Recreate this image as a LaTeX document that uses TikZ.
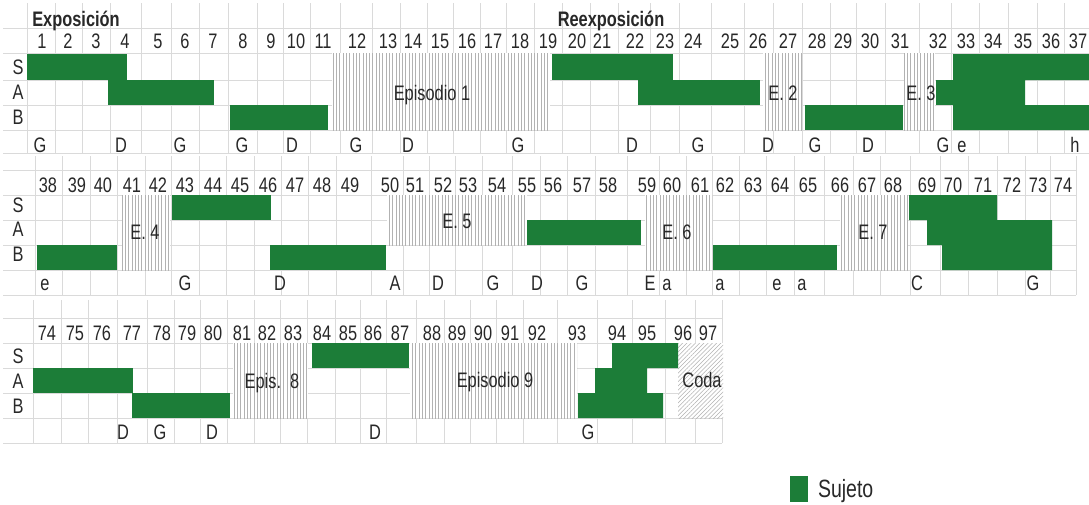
\documentclass[tikz,border=0pt]{standalone}
\usepackage{fontspec}
\newfontfamily\chartfont{Liberation Sans}[FakeStretch=0.78]
\usetikzlibrary{patterns.meta}
\definecolor{sujeto}{RGB}{28,125,56}
\definecolor{gridc}{RGB}{218,218,218}
\definecolor{hatchc}{RGB}{178,178,178}
\definecolor{txt}{RGB}{40,40,40}
\begin{document}
\begin{tikzpicture}[x=1pt,y=-1pt,
  every node/.style={inner sep=0pt, outer sep=0pt, text=txt,
    font=\chartfont\fontsize{21}{24}\selectfont, text height=15pt, text depth=0pt},
  gridline/.style={draw=gridc, line width=0.8pt},
  subj/.style={fill=sujeto},
  episode/.style={preaction={fill=white}, pattern={Lines[angle=90,distance=3.3pt,line width=1pt]}, pattern color=hatchc},
  codahatch/.style={preaction={fill=white}, pattern={Lines[angle=45,distance=3pt,line width=0.5pt]}, pattern color=hatchc},
  hdr/.style={font=\chartfont\bfseries\fontsize{21}{24}\selectfont},
  legendtext/.style={font=\chartfont\fontsize{25}{28}\selectfont, text height=18pt}
]
\fill[white] (0,0) rectangle (1089,504);
\useasboundingbox (0,0) rectangle (1089,504);

% ---------- grid ----------
\foreach \x in {27,55,82,110,141,171,199,228,257,283,310,340,372,400,427,453,480,506,534,562,590,618,650,679,711,744,773,802,830,856,885,919,951,979,1008,1037,1064}
  \draw[gridline] (\x,3) -- (\x,153);
\foreach \y in {28,53,80,105,130,153}
  \draw[gridline] (3,\y) -- (1089,\y);
\foreach \x in {35,62,90,117,145,171,199,226,254,281,308,336,371,403,429,455,482,512,540,567,595,627,659,686,712,739,766,794,824,853,880,910,940,968,997,1025,1050,1076}
  \draw[gridline] (\x,156) -- (\x,295);
\foreach \y in {170,195,220,245,270,295}
  \draw[gridline] (3,\y) -- (1076,\y);
\foreach \x in {33,61,88,117,147,174,200,227,254,280,307,335,360,386,416,444,470,496,523,557,597,632,665,695,722}
  \draw[gridline] (\x,300) -- (\x,443);
\foreach \y in {318,343,368,393,418,443}
  \draw[gridline] (3,\y) -- (722,\y);

% ---------- episodes ----------
\fill[episode] (332,53) rectangle (550,130);
\fill[episode] (763,53) rectangle (802,130);
\fill[episode] (904,53) rectangle (935,130);
\fill[episode] (122,195) rectangle (170,270);
\fill[episode] (387,195) rectangle (527,245);
\fill[episode] (645,195) rectangle (712,270);
\fill[episode] (840,195) rectangle (908,270);
\fill[episode] (233,343) rectangle (308,418);
\fill[episode] (410,343) rectangle (577,418);
\fill[codahatch] (678,343) rectangle (723,418);

% ---------- subject entries ----------
% row 1
\fill[subj] (27,54) rectangle (127,80);
\fill[subj] (108,80) rectangle (214,105);
\fill[subj] (230,105) rectangle (328,130);
\fill[subj] (552,54) rectangle (673,80);
\fill[subj] (638,80) rectangle (760,105);
\fill[subj] (805,105) rectangle (903,130);
\fill[subj] (936,80) rectangle (953,105);
\fill[subj] (953,54) -- (1089,54) -- (1089,80) -- (1025,80) -- (1025,105) -- (1089,105) -- (1089,130) -- (953,130) -- cycle;
% row 2
\fill[subj] (37,245) rectangle (117,270);
\fill[subj] (172,195) rectangle (271,220);
\fill[subj] (270,245) rectangle (386,270);
\fill[subj] (527,220) rectangle (641,245);
\fill[subj] (713,245) rectangle (837,270);
\fill[subj] (909,195) -- (997,195) -- (997,220) -- (1052,220) -- (1052,270) -- (942,270) -- (942,245) -- (927,245) -- (927,220) -- (909,220) -- cycle;
% row 3
\fill[subj] (33,368) rectangle (133,393);
\fill[subj] (132,393) rectangle (230,418);
\fill[subj] (312,343) rectangle (409,368);
\fill[subj] (612,343) -- (678,343) -- (678,368) -- (647,368) -- (647,393) -- (663,393) -- (663,418) -- (578,418) -- (578,393) -- (595,393) -- (595,368) -- (612,368) -- cycle;

% ---------- headers ----------
\node[hdr] (expo) at (76,19) {Exposición};
\node[hdr] (reexpo) at (611,19) {Reexposición};

% ---------- measure numbers ----------
\foreach \n/\x in {1/42,2/68,3/96,4/125,5/158,6/185,7/213,8/243,9/271,10/296,11/323,12/357,13/388,14/413,15/440,16/467,17/493,18/520,19/548,20/577,21/602,22/635,23/665,24/693,25/730,26/758,27/788,28/817,29/843,30/870,31/900,32/938,33/966,34/993,35/1023,36/1051,37/1078}
  \node (m\n) at (\x,41) {\n};
\foreach \n/\x in {38/48,39/77,40/103,41/132,42/158,43/185,44/213,45/240,46/268,47/295,48/322,49/350,50/390,51/415,52/443,53/468,54/497,55/527,56/553,57/582,58/608,59/647,60/672,61/700,62/725,63/753,64/780,65/808,66/840,67/867,68/893,69/927,70/953,71/983,72/1012,73/1038,74/1063}
  \node (m\n) at (\x,185) {\n};
\foreach \n/\x in {74/47,75/75,76/102,77/132,78/162,79/187,80/213,81/242,82/267,83/293,84/322,85/348,86/373,87/400,88/432,89/457,90/483,91/510,92/537,93/577,94/617,95/647,96/683,97/708}
  \node (p\n) at (\x,333) {\n};

% ---------- voice labels ----------
\node (sa) at (18,67) {S}; \node (aa) at (18,92) {A}; \node (ba) at (18,117) {B};
\node (sb) at (18,205) {S}; \node (ab) at (18,229) {A}; \node (bb) at (18,254) {B};
\node (sc) at (18,356) {S}; \node (ac) at (18,381) {A}; \node (bc) at (18,406) {B};

% ---------- keys ----------
\foreach \l/\x [count=\k] in {G/40,D/121,G/180,G/242,D/292,G/356,D/408,G/518,D/632,G/698,D/768,G/815,D/868,G/943,e/962,h/1075}
  \node (ka\k) at (\x,145) {\l};
\foreach \l/\x [count=\k] in {e/45,G/185,D/280,A/395,D/438,G/493,D/537,G/582,E/650,a/667,a/720,e/777,a/802,C/917,G/1033}
  \node (kb\k) at (\x,283) {\l};
\foreach \l/\x [count=\k] in {D/123,G/160,D/212,D/375,G/588}
  \node (kc\k) at (\x,432) {\l};

% ---------- section labels ----------
\node (ep1) at (432,93) {Episodio 1};
\node (ep2) at (783,93) {E. 2};
\node (ep3) at (921,93) {E. 3};
\node (ep4) at (145,232) {E. 4};
\node (ep5) at (457,221) {E. 5};
\node (ep6) at (677,232) {E. 6};
\node (ep7) at (873,232) {E. 7};
\node (ep8) at (272,381) {Epis.\ \ 8};
\node (ep9) at (495,380) {Episodio 9};
\node (coda) at (702,380) {Coda};

% ---------- legend ----------
\fill[subj] (790,476) rectangle (808,502);
\node[legendtext, anchor=west] (legtxt) at (818,488) {Sujeto};
\end{tikzpicture}
\end{document}
